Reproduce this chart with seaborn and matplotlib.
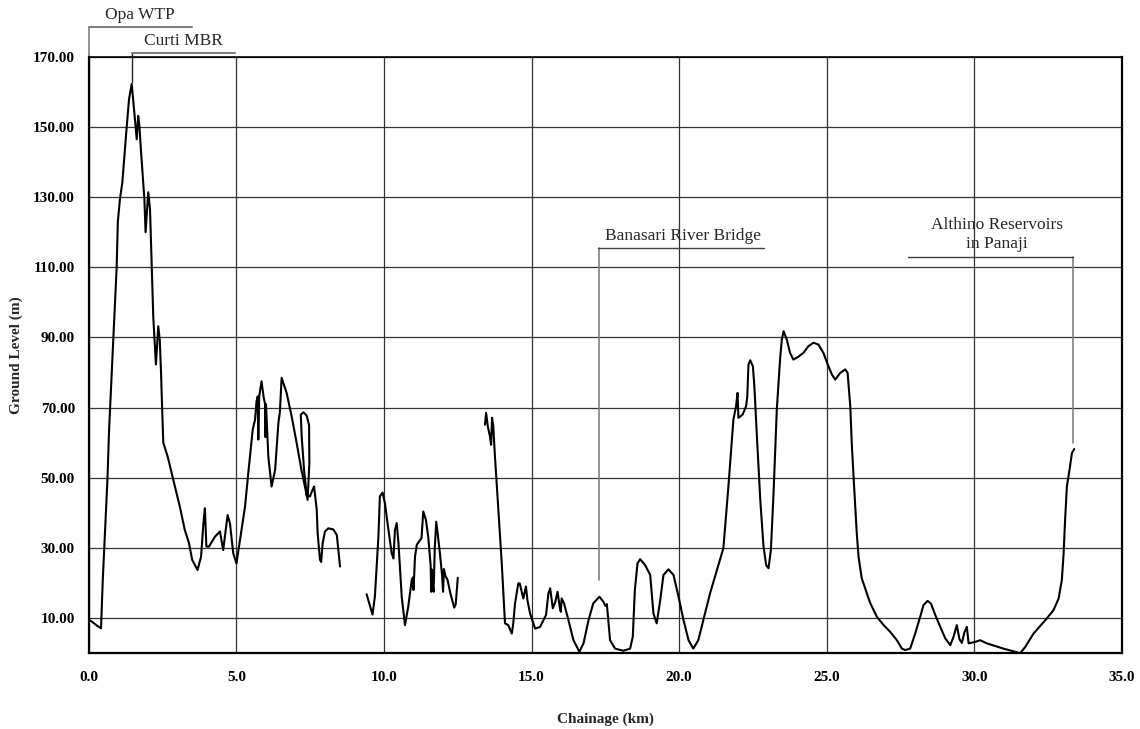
import numpy as np
import pandas as pd
import matplotlib
matplotlib.use("Agg")
import matplotlib.pyplot as plt
import seaborn as sns

# ---------------- data ----------------
seg1_km = [0.0, 0.1, 0.25, 0.41, 0.47, 0.63, 0.68, 0.81, 0.94, 0.98, 1.05, 1.13, 1.28, 1.36, 1.45,
           1.54, 1.62, 1.67, 1.71, 1.76, 1.88, 1.92, 2.01, 2.07, 2.18, 2.27, 2.35, 2.4, 2.44, 2.49,
           2.52, 2.67, 2.86, 3.08, 3.25, 3.39, 3.5, 3.68, 3.8, 3.88, 3.93, 3.98, 4.07, 4.27, 4.44,
           4.55, 4.7, 4.78, 4.89, 5.0, 5.17, 5.29, 5.4, 5.55, 5.63, 5.68, 5.72, 5.74, 5.77, 5.85,
           5.92, 5.97, 5.98, 6.0, 6.08, 6.19, 6.31, 6.42, 6.47, 6.53, 6.7, 6.87, 7.04, 7.2, 7.32,
           7.41, 7.47, 7.46, 7.38, 7.27, 7.18, 7.21, 7.29, 7.38, 7.49, 7.58, 7.63, 7.72, 7.75, 7.83,
           7.87, 7.92, 8.0, 8.11, 8.28, 8.4, 8.51]
seg1_level = [9.5, 9.0, 8.0, 7.1, 21, 50, 63, 86.6, 110, 123, 129.4, 134, 150, 158, 162.3,
              154, 146.5, 153.2, 150.4, 143.7, 129.4, 120, 131.4, 126.6, 96, 82.3, 93.2, 89.4, 80.9, 67.5,
              60, 56, 49.4, 41.8, 35.1, 31.4, 26.6, 23.7, 27.5, 37, 41.3, 30.4, 30.4, 33.2, 34.7,
              29.4, 39.4, 37, 28.5, 25.6, 35.1, 41.8, 51.3, 63.7, 66.6, 71.8, 73.2, 60.9, 73.2, 77.5,
              73, 71, 61.6, 71, 56, 47.5, 52.3, 65.6, 68.6, 78.5, 74.2, 67.5, 59.9, 52.3, 47.5,
              43.7, 54.2, 65, 67.7, 68.7, 68, 61.8, 52.3, 45, 44.7, 46.6, 47.5, 40.9, 34.2, 26.6,
              26, 31.3, 34.7, 35.6, 35.3, 33.7, 24.7]

seg2_km = [9.41, 9.61, 9.69, 9.81, 9.86, 9.95, 10.03, 10.15, 10.26, 10.32, 10.37, 10.43, 10.49,
           10.6, 10.71, 10.82, 10.94, 10.98, 11.0, 11.05, 11.11, 11.27, 11.33, 11.42, 11.5, 11.58,
           11.6, 11.61, 11.64, 11.68, 11.72, 11.77, 11.82, 11.9, 11.97, 12.0, 12.03, 12.08, 12.15,
           12.25, 12.38, 12.43, 12.5]
seg2_level = [16.8, 11, 16.1, 33.2, 44.7, 45.8, 42.8, 35.1, 28.5, 27, 35.1, 37.1, 31.3,
              16.1, 8, 13.2, 20.9, 21.6, 18, 27.5, 30.9, 32.8, 40.4, 38, 33, 25,
              17.5, 24, 20, 17.5, 30, 37.5, 34, 28, 22, 17.5, 24, 22, 21,
              17, 13, 14, 21.5]

seg3_km = [13.42, 13.46, 13.52, 13.59, 13.63, 13.66, 13.7, 13.76, 13.88, 13.99, 14.1, 14.21, 14.33,
           14.38, 14.44, 14.55, 14.6, 14.72, 14.81, 14.86, 14.95, 15.12, 15.29, 15.49, 15.57, 15.63,
           15.72, 15.8, 15.88, 15.94, 15.99, 16.02, 16.1, 16.25, 16.42, 16.62, 16.76, 16.93, 17.09,
           17.3, 17.43, 17.5, 17.55, 17.58, 17.66, 17.83, 18.11, 18.34, 18.43, 18.5, 18.59, 18.68,
           18.85, 19.02, 19.13, 19.24, 19.36, 19.47, 19.64, 19.81, 19.98, 20.15, 20.32, 20.48, 20.65,
           20.82, 21.05, 21.28, 21.45, 21.5, 21.56, 21.67, 21.79, 21.84, 21.93, 21.98, 22.01, 22.15,
           22.27, 22.31, 22.35, 22.41, 22.5, 22.55, 22.63, 22.75, 22.86, 22.95, 23.03, 23.11, 23.2,
           23.31, 23.42, 23.48, 23.54, 23.65, 23.76, 23.87, 24.04, 24.21, 24.38, 24.55, 24.72, 24.89,
           25.06, 25.18, 25.29, 25.46, 25.63, 25.71, 25.8, 25.85, 25.93, 26.02, 26.08, 26.19, 26.36,
           26.47, 26.7, 26.93, 27.15, 27.38, 27.55, 27.66, 27.83, 28.0, 28.17, 28.28, 28.42, 28.53,
           28.68, 28.85, 29.02, 29.19, 29.3, 29.41, 29.5, 29.58, 29.67, 29.75, 29.81, 29.92, 30.03,
           30.2, 30.43, 30.99, 31.56, 31.73, 32.01, 32.46, 32.69, 32.86, 32.97, 33.03, 33.08, 33.14,
           33.23, 33.31, 33.39]
seg3_level = [65.1, 68.5, 64.5, 61.8, 59.4, 67.1, 65, 56, 39.9, 25.6, 8.5, 8, 5.6,
              8.5, 14.2, 19.9, 19.9, 15.6, 19, 15.1, 11.3, 7, 7.5, 10.9, 17, 18.5,
              12.8, 14.5, 17.5, 14, 11.8, 15.6, 14.2, 9.4, 3.7, 0.4, 2.8, 9.4, 14.2,
              16.1, 14.7, 13.5, 14, 11.3, 3.7, 1.3, 0.7, 1.3, 4.7, 18, 25.6, 26.8,
              25.1, 22.3, 11.3, 8.5, 15.1, 22.3, 23.9, 22.3, 16.1, 9.4, 3.7, 1.3, 3.7,
              9.4, 17.1, 23.7, 28.5, 29.9, 36.1, 47.5, 60.9, 66.6, 70.4, 74.2, 67.1, 68,
              70.4, 73.2, 82.3, 83.5, 81.8, 76.1, 62.8, 43.7, 30.4, 25.1, 24.2, 29.4, 45.6,
              69.4, 83.7, 89.4, 91.8, 89.4, 85.6, 83.7, 84.5, 85.6, 87.5, 88.5, 88, 85.6,
              81.8, 79.4, 78, 79.9, 80.9, 79.9, 70.4, 59.9, 47.5, 34.2, 27.5, 21.3, 17.1,
              14.4, 10.4, 8, 6.1, 3.7, 1.3, 0.9, 1.3, 5.6, 10.4, 13.7, 14.9, 14.2,
              10.9, 7.5, 4.2, 2.3, 4.7, 8, 4, 2.9, 6, 7.5, 2.8, 3.0, 3.2,
              3.7, 2.8, 1.3, 0, 1.8, 5.6, 9.9, 12.3, 15.6, 20.9, 28.5, 38, 47.5,
              52.3, 57, 58.2]

x_ticks = [0, 5, 10, 15, 20, 25, 30, 35]
y_ticks = [10, 30, 50, 70, 90, 110, 130, 150, 170]

landmark_names = ["Opa WTP", "Curti MBR", "Banasari River Bridge", "Althino Reservoirs\nin Panaji"]

assert len(seg1_km) == len(seg1_level)
assert len(seg2_km) == len(seg2_level)
assert len(seg3_km) == len(seg3_level)

df = pd.concat([
    pd.DataFrame({"km": seg1_km, "level": seg1_level, "seg": 1}),
    pd.DataFrame({"km": seg2_km, "level": seg2_level, "seg": 2}),
    pd.DataFrame({"km": seg3_km, "level": seg3_level, "seg": 3}),
], ignore_index=True)

# ---------------- style ----------------
sns.set_theme(style="white")
plt.rcParams["font.family"] = ["Liberation Serif", "DejaVu Serif"]

fig = plt.figure(figsize=(11.4, 7.29), dpi=100)
ax = fig.add_axes([0.078, 0.104, 0.984 - 0.078, 0.922 - 0.104])

sns.lineplot(data=df, x="km", y="level", units="seg", estimator=None, sort=False,
             color="black", linewidth=1.5, ax=ax, legend=False)

ax.set_xlim(0, 35)
ax.set_ylim(0, 170)
ax.set_xticks(x_ticks)
ax.set_yticks(y_ticks)
ax.set_xticklabels([f"{v:.1f}" for v in x_ticks], fontweight="bold", fontsize=11)
ax.set_yticklabels([f"{v:.2f}" for v in y_ticks], fontweight="bold", fontsize=11)
ax.tick_params(axis="x", direction="in", length=4, width=1.5, pad=13, colors="black")
ax.tick_params(axis="y", direction="in", length=4, width=1.0, pad=10, colors="black")
ax.grid(True, color="#333333", linewidth=0.9)
ax.set_axisbelow(True)
for side, sp in ax.spines.items():
    sp.set_visible(True)
    sp.set_color("black")
    sp.set_linewidth(1.6 if side != "top" else 1.2)

ax.set_xlabel("Chainage (km)", fontweight="bold", fontsize=11, labelpad=20)
ax.set_ylabel("Ground Level (m)", fontweight="bold", fontsize=11, labelpad=7)

# ---------------- landmark annotations ----------------
gray = "#808080"
fs = 12.5
# Opa WTP
ax.plot([0, 0], [170, 178.6], color=gray, lw=1.2, clip_on=False)
ax.plot([0, 3.49], [178.6, 178.6], color=gray, lw=1.5, clip_on=False)
ax.text(1.73, 181.8, landmark_names[0], ha="center", va="center", fontsize=fs, clip_on=False)
# Curti MBR
ax.plot([1.46, 1.46], [171.1, 162.9], color="#202020", lw=1.0, clip_on=False)
ax.plot([1.46, 4.95], [171.1, 171.1], color=gray, lw=1.5, clip_on=False)
ax.text(3.19, 174.5, landmark_names[1], ha="center", va="center", fontsize=fs, clip_on=False)
# Banasari River Bridge
ax.plot([17.29, 17.29], [115.4, 20.9], color=gray, lw=1.2)
ax.plot([17.25, 22.88], [115.4, 115.4], color="#404040", lw=1.0)
ax.text(20.14, 118.8, landmark_names[2], ha="center", va="center", fontsize=fs)
# Althino Reservoirs
ax.plot([33.36, 33.36], [112.9, 60.0], color=gray, lw=1.2)
ax.plot([27.76, 33.36], [112.9, 112.9], color="#404040", lw=1.0)
ax.text(30.78, 119.4, landmark_names[3], ha="center", va="center", fontsize=fs,
        linespacing=1.25)

fig.savefig("out.png", dpi=100, facecolor="white")
